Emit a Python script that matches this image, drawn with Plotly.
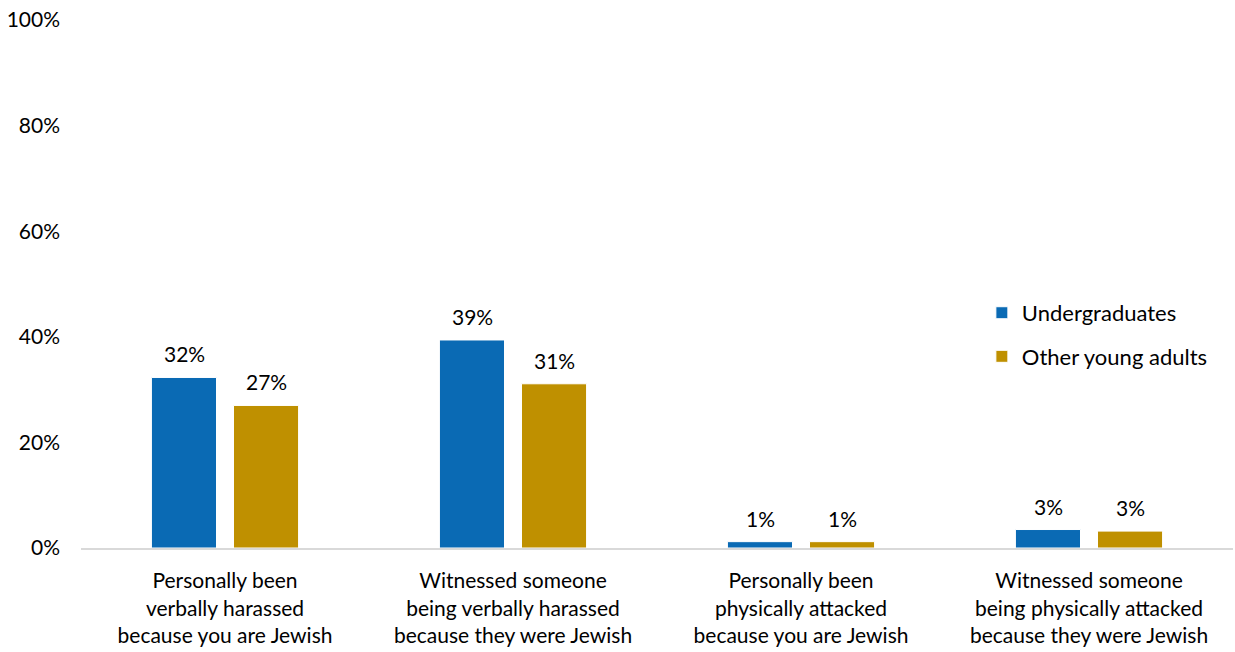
import plotly.graph_objects as go

categories = [
    "Personally been<br>verbally harassed<br>because you are Jewish",
    "Witnessed someone<br>being verbally harassed<br>because they were Jewish",
    "Personally been<br>physically attacked<br>because you are Jewish",
    "Witnessed someone<br>being physically attacked<br>because they were Jewish",
]
undergrad = [32.3, 39.4, 1.2, 3.5]
undergrad_labels = ["32%", "39%", "1%", "3%"]
others = [27.0, 31.1, 1.2, 3.2]
others_labels = ["27%", "31%", "1%", "3%"]
y_ticks = [0, 20, 40, 60, 80, 100]
y_tick_labels = ["0%", "20%", "40%", "60%", "80%", "100%"]

FONT = "Lato, 'Open Sans', sans-serif"
BLUE = "#0a6ab4"
GOLD = "#bf9000"

fig = go.Figure()
fig.add_trace(go.Bar(
    x=categories, y=undergrad, name="Undergraduates",
    marker=dict(color=BLUE, line=dict(color="#ffffff", width=1)),
    legendgroup="a",
))
fig.add_trace(go.Bar(
    x=categories, y=others, name="Other young adults",
    marker=dict(color=GOLD, line=dict(color="#ffffff", width=1)),
    legendgroup="b",
))

# value labels above bars
for vals, labels, shift in ((undergrad, undergrad_labels, -41), (others, others_labels, 41)):
    for c, v, t in zip(categories, vals, labels):
        fig.add_annotation(
            x=c, y=v, text=t, showarrow=False,
            xanchor="center", yanchor="bottom",
            xshift=shift, yshift=9,
            font=dict(size=21, color="#000000", family=FONT),
        )

fig.update_layout(
    width=1235, height=652,
    margin=dict(l=81, r=2, t=20, b=104),
    paper_bgcolor="white", plot_bgcolor="white",
    barmode="group", bargap=0.43, bargroupgap=0.207,
    font=dict(family=FONT, size=21, color="#000000"),
    showlegend=True,
    legend=dict(
        x=0.782, y=0.485, xanchor="left", yanchor="top",
        font=dict(size=22, color="#000000", family=FONT),
        traceorder="grouped", tracegroupgap=12,
        bgcolor="rgba(0,0,0,0)",
    ),
    xaxis=dict(
        showline=True, linecolor="#d9d9d9", linewidth=2,
        ticks="", tickfont=dict(size=21, color="#000000", family=FONT),
        showgrid=False, ticklabelstandoff=13,
    ),
    yaxis=dict(
        range=[0, 100], tickvals=y_ticks, ticktext=y_tick_labels,
        showgrid=False, zeroline=False, showline=False, ticks="",
        tickfont=dict(size=21, color="#000000", family=FONT),
        ticklabelstandoff=20,
    ),
)

fig.write_html("out.html", config={"displayModeBar": False})

# remove the default page margin so the figure sits at the window origin
with open("out.html", "r", encoding="utf-8") as f:
    html = f.read()
html = html.replace("<head>", "<head><style>body{margin:0;}</style>", 1)
with open("out.html", "w", encoding="utf-8") as f:
    f.write(html)
